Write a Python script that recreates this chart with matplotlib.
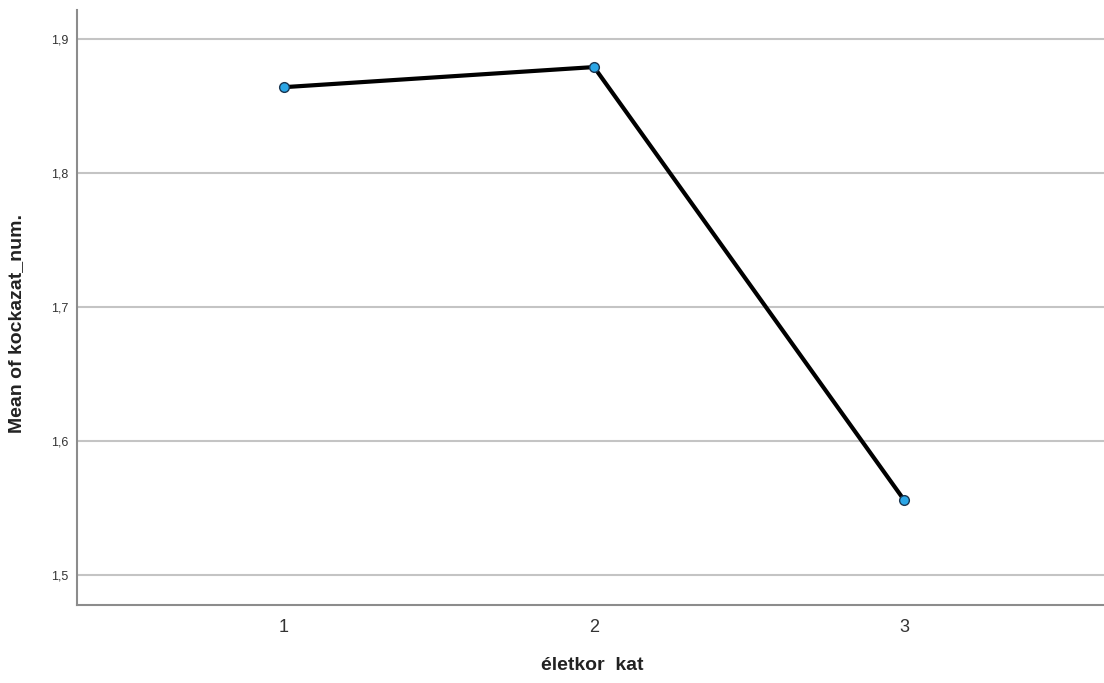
import matplotlib.pyplot as plt
from matplotlib.ticker import FuncFormatter

plt.rcParams['font.family'] = ['Liberation Sans', 'DejaVu Sans']

age_cat = [1, 2, 3]
mean_risk = [1.864, 1.879, 1.556]
y_ticks = [1.5, 1.6, 1.7, 1.8, 1.9]

fig = plt.figure(figsize=(11.04, 6.83), dpi=100)
ax = fig.add_axes([0.0697, 0.1142, 0.9303, 0.8712])

ax.plot(age_cat, mean_risk, color='black', linewidth=3, zorder=3)
ax.plot(age_cat, mean_risk, linestyle='none', marker='o', markersize=7,
        markerfacecolor='#2ba6e6', markeredgecolor='#1a3550', markeredgewidth=1, zorder=4)

ax.set_xlim(0.332, 3.645)
ax.set_ylim(1.4776, 1.9216)
ax.set_xticks(age_cat)
ax.set_yticks(y_ticks)
ax.yaxis.set_major_formatter(FuncFormatter(lambda v, p: f"{v:.1f}".replace('.', ',')))

ax.grid(axis='y', color='#c4c4c4', linewidth=1.5)
ax.set_axisbelow(True)
for s in ['top', 'right']:
    ax.spines[s].set_visible(False)
for s in ['left', 'bottom']:
    ax.spines[s].set_color('#8c8c8c')
    ax.spines[s].set_linewidth(1.5)

ax.tick_params(axis='both', length=0)
ax.tick_params(axis='y', labelsize=9, pad=6, labelcolor='#333333')
ax.tick_params(axis='x', labelsize=13, pad=10, labelcolor='#333333')

ax.set_xlabel('életkor  kat', fontsize=14, fontweight='bold', color='#222222')
ax.xaxis.set_label_coords(0.502, -0.087)
ax.set_ylabel('Mean of kockazat_num.', fontsize=14, fontweight='bold', color='#222222')
ax.yaxis.set_label_coords(-0.051, 0.473)

fig.savefig('out.png', dpi=100)
